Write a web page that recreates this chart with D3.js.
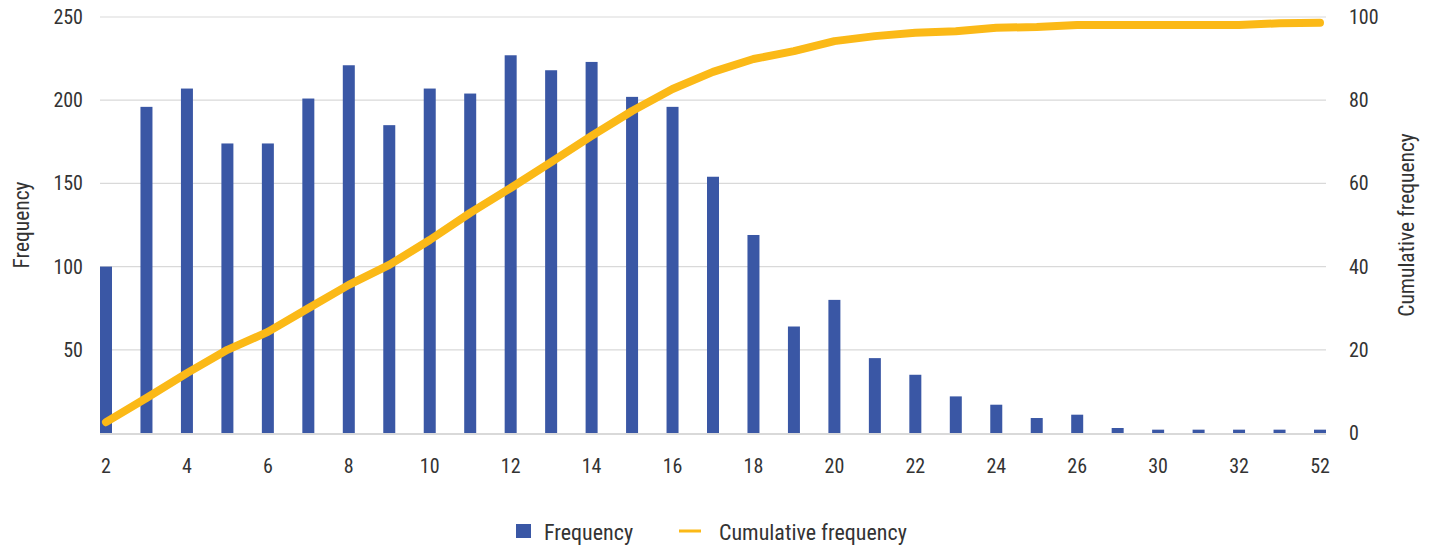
<!DOCTYPE html>
<html><head><meta charset="utf-8">
<script src="https://cdn.jsdelivr.net/npm/d3@7"></script>
<style>
body{margin:0;background:#fff;}
svg text{font-family:"Liberation Sans Narrow","Roboto Condensed","Arial Narrow",Roboto,sans-serif;fill:#333;}
</style></head><body>
<svg id="c" width="1436" height="550"></svg>
<script>
const categories = ["2","3","4","5","6","7","8","9","10","11","12","13","14","15","16","17","18","19","20","21","22","23","24","25","26","28","30","31","32","36","52"];
const frequency = [100,196,207,174,174,201,221,185,207,204,227,218,223,202,196,154,119,64,80,45,35,22,17,9,11,3,2,2,2,2,2];
const cumulative = [2.6,8.4,14.4,20,24.3,30,35.6,40.4,46.4,52.9,58.9,65.1,71.4,77.4,82.7,86.8,89.9,91.8,94.2,95.4,96.2,96.6,97.4,97.6,98.1,98.1,98.1,98.1,98.1,98.5,98.6];
const leftTicks = [50,100,150,200,250];
const rightTicks = [0,20,40,60,80,100];

const svg = d3.select("#c");
const x = d3.scalePoint().domain(categories).range([106,1320]);
const barW = 12;
const yL = d3.scaleLinear().domain([0,250]).range([433,17]);
const yR = d3.scaleLinear().domain([0,100]).range([433,17]);
const x0 = 100, x1 = 1326;

// gridlines
svg.append("g").selectAll("line").data(leftTicks).join("line")
  .attr("x1",x0).attr("x2",x1).attr("y1",d=>yL(d)).attr("y2",d=>yL(d))
  .attr("stroke","#d9d9d9").attr("stroke-width",1.2);

// bars
svg.append("g").selectAll("rect").data(frequency).join("rect")
  .attr("x",(d,i)=>x(categories[i])-barW/2).attr("width",barW)
  .attr("y",d=>yL(d)).attr("height",d=>yL(0)-yL(d))
  .attr("fill","#3a57a5");

// baseline
svg.append("line").attr("x1",x0).attr("x2",x1).attr("y1",yL(0)+1).attr("y2",yL(0)+1)
  .attr("stroke","#d9d9d9").attr("stroke-width",2);

// line
const line = d3.line().x((d,i)=>x(categories[i])).y(d=>yR(d));
svg.append("path").datum(cumulative).attr("d",line)
  .attr("fill","none").attr("stroke","#fbb917").attr("stroke-width",8)
  .attr("stroke-linecap","round").attr("stroke-linejoin","round");

// left axis labels
svg.append("g").selectAll("text").data(leftTicks).join("text")
  .attr("x",83).attr("y",d=>yL(d)).attr("dy","0.35em").attr("text-anchor","end")
  .attr("font-size",20).text(d=>d);
// right axis labels
svg.append("g").selectAll("text").data(rightTicks).join("text")
  .attr("x",1349).attr("y",d=>yR(d)).attr("dy","0.35em").attr("text-anchor","start")
  .attr("font-size",20).text(d=>d);
// x labels
svg.append("g").selectAll("text").data(categories.filter((d,i)=>i%2===0)).join("text")
  .attr("x",d=>x(d)).attr("y",466).attr("dy","0.35em").attr("text-anchor","middle")
  .attr("font-size",20).text(d=>d);

// axis titles
svg.append("text").attr("transform","translate(21,225) rotate(-90)")
  .attr("text-anchor","middle").attr("dy","0.35em").attr("font-size",21.5).text("Frequency");
svg.append("text").attr("transform","translate(1406,225) rotate(-90)")
  .attr("text-anchor","middle").attr("dy","0.35em").attr("font-size",21.5).text("Cumulative frequency");

// legend
const lg = svg.append("g");
lg.append("rect").attr("x",516).attr("y",524).attr("width",15).attr("height",14).attr("fill","#3a57a5");
lg.append("text").attr("x",544).attr("y",532).attr("dy","0.35em").attr("font-size",22).text("Frequency");
lg.append("line").attr("x1",679).attr("x2",701).attr("y1",531).attr("y2",531).attr("stroke","#fbb917").attr("stroke-width",3);
lg.append("text").attr("x",719).attr("y",532).attr("dy","0.35em").attr("font-size",22).text("Cumulative frequency");
</script>
</body></html>
